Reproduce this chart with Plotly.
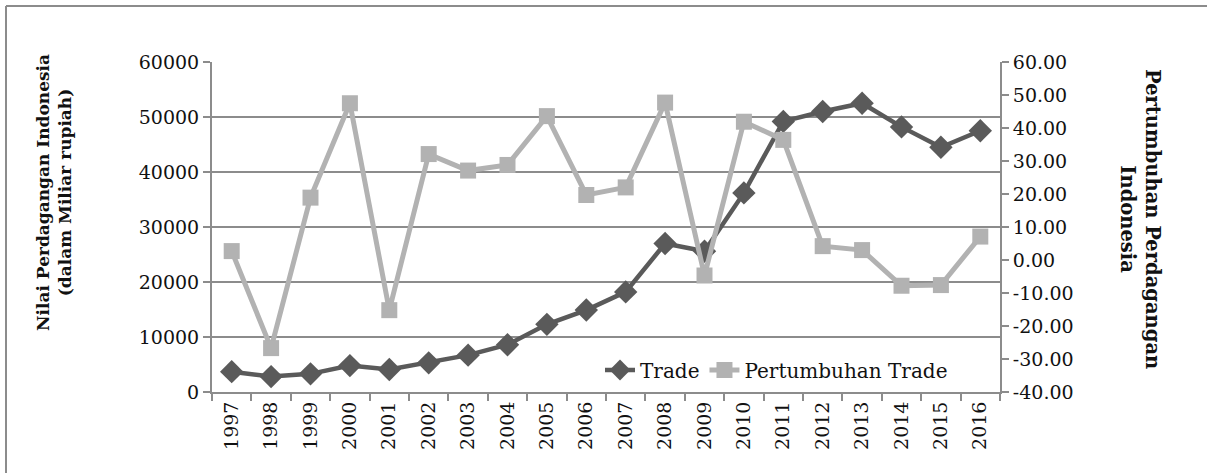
import plotly.graph_objects as go

years = [str(y) for y in range(1997, 2017)]
trade = [3700, 2800, 3300, 4800, 4100, 5300, 6700, 8600, 12300, 14900,
         18200, 27000, 25600, 36200, 49200, 51000, 52500, 48200, 44500, 47500]
growth = [2.7, -26.7, 18.9, 47.5, -15.2, 32.1, 27.1, 28.8, 43.6, 19.7,
          22.0, 47.7, -4.7, 41.9, 36.4, 4.2, 3.0, -7.8, -7.6, 7.1]
growth_ticks = [-40, -30, -20, -10, 0, 10, 20, 30, 40, 50, 60]
growth_labels = ["-40.00", "-30.00", "-20.00", "-10.00", "0.00", "10.00",
                 "20.00", "30.00", "40.00", "50.00", "60.00"]

W, H = 1207, 473
L, R, T, B = 212, 1000, 62, 392
SERIF = "DejaVu Serif, Liberation Serif, serif"
AX = "#8c8c8c"

def px(x):
    return (x - L) / (R - L)

def py(y):
    return (B - y) / (B - T)

fig = go.Figure()
fig.add_trace(go.Scatter(
    x=years, y=trade, name="Trade", mode="lines+markers",
    line=dict(color="#5a5a5a", width=4.5),
    marker=dict(symbol="diamond", size=18, color="#5a5a5a"),
))
fig.add_trace(go.Scatter(
    x=years, y=growth, name="Pertumbuhan Trade", mode="lines+markers", yaxis="y2",
    line=dict(color="#b2b2b2", width=5),
    marker=dict(symbol="square", size=16, color="#b2b2b2"),
))

fig.update_layout(
    width=W, height=H,
    margin=dict(l=L, r=W - R, t=T, b=H - B),
    paper_bgcolor="white", plot_bgcolor="white",
    font=dict(family=SERIF, size=19, color="#111"),
    showlegend=True,
    legend=dict(orientation="h", x=px(600), y=py(370), xanchor="left", yanchor="middle",
                bgcolor="rgba(255,255,255,0)", font=dict(size=20), tracegroupgap=0),
    xaxis=dict(type="category", range=[-0.5, 19.5], tickangle=-90, showline=True,
               linecolor=AX, linewidth=2, ticks="outside", tickson="boundaries",
               tickcolor=AX, ticklen=7, tickwidth=2, showgrid=False,
               tickfont=dict(size=19)),
    yaxis=dict(range=[0, 60000], dtick=10000, showline=True, linecolor=AX, linewidth=2,
               ticks="outside", tickcolor=AX, ticklen=7, tickwidth=2,
               showgrid=True, gridcolor=AX, gridwidth=2, zeroline=False,
               tickformat="d", tickfont=dict(size=19)),
    yaxis2=dict(range=[-40, 60], tickvals=growth_ticks, ticktext=growth_labels,
                overlaying="y", side="right", showline=True,
                linecolor=AX, linewidth=2, ticks="outside", tickcolor=AX, ticklen=7,
                tickwidth=2, showgrid=False, zeroline=False, tickfont=dict(size=19)),
)

fig.add_annotation(x=px(31), y=py(193), xref="paper", yref="paper", showarrow=False,
                   textangle=-90, font=dict(size=17, family=SERIF),
                   text="<b>Nilai Perdagangan Indonesia<br>(dalam Miliar rupiah)</b>")
fig.add_annotation(x=px(1166), y=py(219), xref="paper", yref="paper", showarrow=False,
                   textangle=90, font=dict(size=19.5, family=SERIF),
                   text="<b>Pertumbuhan Perdagangan<br>Indonesia</b>")

fig.add_shape(type="line", xref="paper", yref="paper", x0=px(6), x1=px(1210),
              y0=py(6), y1=py(6), line=dict(color=AX, width=2))
fig.add_shape(type="line", xref="paper", yref="paper", x0=px(6), x1=px(6),
              y0=py(6), y1=py(476), line=dict(color=AX, width=2))

fig.write_html("out.html", config={"displayModeBar": False},
               post_script="document.body.style.margin='0';")
